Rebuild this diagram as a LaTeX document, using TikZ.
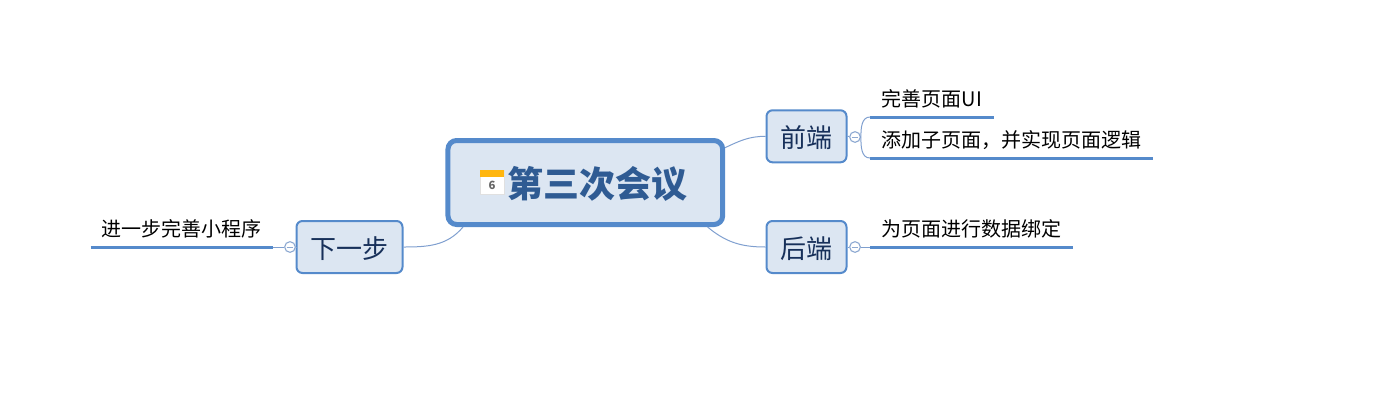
\documentclass[tikz,border=0pt]{standalone}
\usepackage{fontspec}
\setmainfont{Noto Sans CJK SC}
\usetikzlibrary{positioning}

\definecolor{boxfill}{HTML}{DCE6F2}
\definecolor{boxline}{HTML}{558ACB}
\definecolor{linkline}{HTML}{7F9FCF}
\definecolor{titletext}{HTML}{2F5B93}
\definecolor{topictext}{HTML}{17305A}
\definecolor{foldline}{HTML}{8FAAD2}
\definecolor{calorange}{HTML}{FFB60F}

\tikzset{
  rootbox/.style={draw=boxline,fill=boxfill,rectangle,rounded corners=6.5pt,line width=3.75pt,
    minimum width=206pt,minimum height=63pt,inner sep=0pt},
  topicbox/.style={draw=boxline,fill=boxfill,rectangle,rounded corners=4.5pt,line width=1.5pt,
    minimum height=39pt,inner sep=0pt,text=topictext,text height=18pt,text depth=1.2pt,
    font=\fontsize{19.5}{20}\selectfont},
  leaf/.style={anchor=west,inner xsep=8pt,inner ysep=0pt,outer sep=0pt,minimum height=27pt,
    align=left,text height=12.3pt,text depth=1.2pt,font=\fontsize{15}{16}\selectfont},
  rule/.style={draw=boxline,line width=2.25pt},
  link/.style={draw=linkline,line width=.75pt},
  fold/.style={draw=foldline,fill=white,circle,line width=.85pt,minimum size=8pt,inner sep=0pt,
    path picture={\draw[foldline,line width=.75pt] ([xshift=1.5pt]path picture bounding box.west)
      -- ([xshift=-1.5pt]path picture bounding box.east);}},
}

\begin{document}
\begin{tikzpicture}[x=.75pt,y=-.75pt]
  \useasboundingbox (0,0) rectangle (1394,401);

  \node[rootbox] (root) at (585.3,182.5) {};
  \node[inner sep=0pt,text=titletext,font=\fontsize{27}{28}\selectfont\bfseries] (title) at (597.5,184) {第三次会议};

  % calendar icon
  \node[draw=black!12,fill=white,rectangle,minimum width=18pt,minimum height=18pt,inner sep=0pt,
    text=black!60,font=\fontsize{8.5}{9}\selectfont\bfseries,text depth=0pt] (cal) at (492,182) {\raisebox{-5pt}{6}};
  \node[fill=calorange,rectangle,anchor=north,minimum width=18pt,minimum height=5.5pt,inner sep=0pt] (caltop) at (cal.north) {};

  \foreach \x/\y/\w/\n/\t in {806.5/136.3/80/front/前端, 806.5/247/80/back/后端, 349.5/247/106/next/下一步}
    \node[topicbox,minimum width=\w*.75pt] (\n) at (\x,\y) {\t};

  \foreach \x/\y/\n in {855/137/foldfront, 855/247/foldback, 290/247/foldnext}
    \node[fold] (\n) at (\x,\y) {};

  \foreach \x/\y/\w/\n/\t in {870/99/124/page/完善页面UI, 870/140/283/logic/添加子页面，并实现页面逻辑,
    870/229/203/bind/为页面进行数据绑定, 90.5/229/182.5/app/进一步完善小程序}
  {
    \node[leaf,minimum width=\w*.75pt] (\n) at (\x,\y) {\t};
    \draw[rule] (\n.south west) -- (\n.south east);
  }

  \draw[link] (root.14.6) to[out=25,in=180] (front.west);
  \draw[link] (root.-20.3) to[out=-40,in=180] (back.west);
  \draw[link] (root.200) to[out=-130,in=0] (next.east);

  \draw[link] (front.east) -- (foldfront);
  \draw[link] (back.east) -- (foldback);
  \draw[link] (next.west) -- (foldnext);
  \draw[link] (foldfront.east) to[out=90,in=180] (page.south west);
  \draw[link] (foldfront.east) to[out=-90,in=180] (logic.south west);
  \draw[link] (foldback.east) -- (bind.south west);
  \draw[link] (foldnext.west) -- (app.south east);
\end{tikzpicture}
\end{document}
